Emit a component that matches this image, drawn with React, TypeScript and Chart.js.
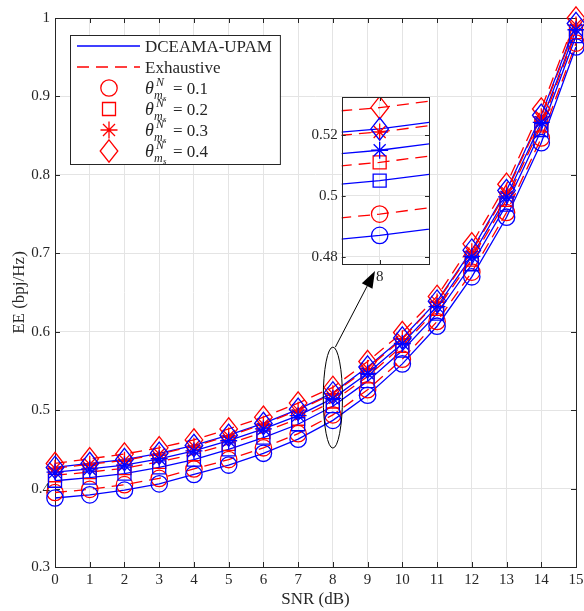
import React, { useEffect, useRef } from "react";
import { Chart, registerables } from "chart.js";
Chart.register(...registerables);

// ---------------- data ----------------
const snr = [0, 1, 2, 3, 4, 5, 6, 7, 8, 9, 10, 11, 12, 13, 14, 15];
const yTickValues = [0.3, 0.4, 0.5, 0.6, 0.7, 0.8, 0.9, 1];
const xTickValues = [0, 1, 2, 3, 4, 5, 6, 7, 8, 9, 10, 11, 12, 13, 14, 15];
const thetaValues = ["0.1", "0.2", "0.3", "0.4"];
const seriesNames = ["DCEAMA-UPAM", "Exhaustive"];

// DCEAMA-UPAM (blue, solid)
const propT1 = [0.388, 0.392, 0.398, 0.406, 0.418, 0.430, 0.445, 0.463, 0.487, 0.519, 0.559, 0.607, 0.670, 0.746, 0.841, 0.963];
const propT2 = [0.410, 0.414, 0.419, 0.427, 0.437, 0.450, 0.465, 0.482, 0.505, 0.537, 0.576, 0.623, 0.686, 0.762, 0.857, 0.977];
const propT3 = [0.421, 0.425, 0.430, 0.438, 0.448, 0.461, 0.476, 0.493, 0.515, 0.547, 0.585, 0.632, 0.696, 0.772, 0.867, 0.985];
const propT4 = [0.427, 0.432, 0.437, 0.445, 0.455, 0.468, 0.483, 0.501, 0.522, 0.555, 0.592, 0.639, 0.704, 0.780, 0.876, 0.993];
// Exhaustive (red, dashed)
const exhT1 = [0.395, 0.399, 0.405, 0.413, 0.425, 0.437, 0.452, 0.470, 0.494, 0.526, 0.565, 0.613, 0.676, 0.752, 0.847, 0.968];
const exhT2 = [0.417, 0.421, 0.426, 0.434, 0.444, 0.457, 0.472, 0.489, 0.511, 0.543, 0.582, 0.629, 0.692, 0.768, 0.863, 0.982];
const exhT3 = [0.426, 0.431, 0.436, 0.444, 0.454, 0.467, 0.482, 0.500, 0.521, 0.553, 0.591, 0.638, 0.702, 0.778, 0.874, 0.991];
const exhT4 = [0.432, 0.438, 0.444, 0.452, 0.462, 0.476, 0.491, 0.509, 0.529, 0.562, 0.599, 0.645, 0.712, 0.788, 0.884, 1.000];

// inset
const insetXTicks = [8];
const insetYTicks = [0.48, 0.5, 0.52];
const insetYLabels = ["0.48", "0.5", "0.52"];
const insetXRange = [7.95, 8.065];
const insetYRange = [0.4776, 0.5325];

// ---------------- styling ----------------
const BLUE = "#0000ff";
const RED = "#ff0000";
const AXIS = "#262626";
const GRID = "#e4e4e4";
const FONT = "'Liberation Serif', 'Times New Roman', serif";
const DASH = [12, 7];
const LW = 1.3;

type Shape = "circle" | "square" | "star" | "diamond";
const shapes: Shape[] = ["circle", "square", "star", "diamond"];

function drawMarker(g: CanvasRenderingContext2D, shape: Shape, cx: number, cy: number, color: string) {
  g.save();
  g.strokeStyle = color;
  g.lineWidth = LW;
  g.setLineDash([]);
  g.beginPath();
  if (shape === "circle") {
    g.arc(cx, cy, 8.2, 0, Math.PI * 2);
  } else if (shape === "square") {
    g.rect(cx - 6.5, cy - 6.5, 13, 13);
  } else if (shape === "star") {
    const r = 8.5;
    for (const a of [0, 45, 90, 135]) {
      const t = (a * Math.PI) / 180;
      g.moveTo(cx - r * Math.cos(t), cy - r * Math.sin(t));
      g.lineTo(cx + r * Math.cos(t), cy + r * Math.sin(t));
    }
  } else {
    g.moveTo(cx, cy - 11.2);
    g.lineTo(cx + 8.8, cy);
    g.lineTo(cx, cy + 11.2);
    g.lineTo(cx - 8.8, cy);
    g.closePath();
  }
  g.stroke();
  g.restore();
}

function buildDatasets(clip: boolean) {
  const prop = [propT1, propT2, propT3, propT4];
  const exh = [exhT1, exhT2, exhT3, exhT4];
  const ds: any[] = [];
  shapes.forEach((shape, i) => {
    ds.push({
      label: seriesNames[1],
      data: snr.map((x, k) => ({ x, y: exh[i][k] })),
      borderColor: RED,
      borderWidth: LW,
      borderDash: DASH,
      pointRadius: 0,
      fill: false,
      tension: 0,
      markerShape: shape,
      clip: clip ? undefined : false,
    });
  });
  shapes.forEach((shape, i) => {
    ds.push({
      label: seriesNames[0],
      data: snr.map((x, k) => ({ x, y: prop[i][k] })),
      borderColor: BLUE,
      borderWidth: LW,
      pointRadius: 0,
      fill: false,
      tension: 0,
      markerShape: shape,
      clip: clip ? undefined : false,
    });
  });
  return ds;
}

function drawAllMarkers(chart: any, clip: boolean) {
  const { ctx, chartArea: a } = chart;
  ctx.save();
  if (clip) {
    ctx.beginPath();
    ctx.rect(a.left, a.top, a.right - a.left, a.bottom - a.top);
    ctx.clip();
  }
  chart.data.datasets.forEach((ds: any, i: number) => {
    const meta = chart.getDatasetMeta(i);
    meta.data.forEach((el: any) => {
      if (clip && (el.x < a.left - 15 || el.x > a.right + 15)) return;
      drawMarker(ctx, ds.markerShape, el.x, el.y, ds.borderColor);
    });
  });
  ctx.restore();
}

function drawBoxAndTicks(chart: any, xTicks: number[], yTicks: number[], len: number) {
  const { ctx, chartArea: a, scales } = chart;
  ctx.save();
  ctx.strokeStyle = AXIS;
  ctx.lineWidth = 1;
  ctx.beginPath();
  for (const v of xTicks) {
    const px = Math.round(scales.x.getPixelForValue(v)) + 0.5;
    ctx.moveTo(px, a.bottom);
    ctx.lineTo(px, a.bottom - len);
    ctx.moveTo(px, a.top);
    ctx.lineTo(px, a.top + len);
  }
  for (const v of yTicks) {
    const py = Math.round(scales.y.getPixelForValue(v)) + 0.5;
    ctx.moveTo(a.left, py);
    ctx.lineTo(a.left + len, py);
    ctx.moveTo(a.right, py);
    ctx.lineTo(a.right - len, py);
  }
  ctx.stroke();
  ctx.strokeRect(Math.round(a.left) + 0.5, Math.round(a.top) + 0.5, Math.round(a.right - a.left), Math.round(a.bottom - a.top));
  ctx.restore();
}

function fmtTick(v: number) {
  return String(Math.round(v * 10) / 10);
}

function drawTheta(ctx: CanvasRenderingContext2D, x: number, base: number, val: string) {
  ctx.font = `italic 18px ${FONT}`;
  ctx.fillText("θ", x, base);
  ctx.font = `italic 12px ${FONT}`;
  ctx.fillText("N", x + 11, base - 8);
  ctx.fillText("m", x + 9, base + 5);
  ctx.font = `italic 9px ${FONT}`;
  ctx.fillText("s", x + 18, base + 7);
  ctx.font = `17px ${FONT}`;
  ctx.fillText("= " + val, x + 28, base);
}

const mainPlugin = {
  id: "mainDecor",
  beforeDatasetsDraw(chart: any) {
    const { ctx, chartArea: a, scales } = chart;
    drawBoxAndTicks(chart, xTickValues, yTickValues, 5);
    ctx.save();
    ctx.fillStyle = AXIS;
    ctx.font = `15px ${FONT}`;
    ctx.textAlign = "right";
    ctx.textBaseline = "middle";
    for (const v of yTickValues) {
      ctx.fillText(fmtTick(v), a.left - 5, scales.y.getPixelForValue(v));
    }
    ctx.textAlign = "center";
    for (const v of xTickValues) {
      ctx.fillText(String(v), scales.x.getPixelForValue(v), a.bottom + 13);
    }
    ctx.font = `17px ${FONT}`;
    ctx.fillText("SNR (dB)", (a.left + a.right) / 2, a.bottom + 33);
    ctx.translate(20, (a.top + a.bottom) / 2);
    ctx.rotate(-Math.PI / 2);
    ctx.fillText("EE (bpj/Hz)", 0, 0);
    ctx.restore();
  },
  afterDatasetsDraw(chart: any) {
    const { ctx, scales } = chart;
    drawAllMarkers(chart, false);
    ctx.save();
    // ellipse around SNR = 8
    const ex = scales.x.getPixelForValue(8);
    const ey = scales.y.getPixelForValue(0.516);
    ctx.strokeStyle = "#000";
    ctx.lineWidth = 1;
    ctx.beginPath();
    ctx.ellipse(ex, ey, 9.6, 50.5, 0, 0, Math.PI * 2);
    ctx.stroke();
    // arrow to inset
    const sx = ex + 2.5, sy = ey - 50.5;
    const tx = 375, ty = 271;
    const ang = Math.atan2(ty - sy, tx - sx);
    const hl = 17, hw = 6;
    const bx = tx - hl * Math.cos(ang), by = ty - hl * Math.sin(ang);
    ctx.beginPath();
    ctx.moveTo(sx, sy);
    ctx.lineTo(bx, by);
    ctx.stroke();
    ctx.fillStyle = "#000";
    ctx.beginPath();
    ctx.moveTo(tx, ty);
    ctx.lineTo(bx + hw * Math.sin(ang), by - hw * Math.cos(ang));
    ctx.lineTo(bx - hw * Math.sin(ang), by + hw * Math.cos(ang));
    ctx.closePath();
    ctx.fill();

    // legend
    const L = 70, T = 35, B = 164;
    ctx.font = `17px ${FONT}`;
    const textX = 145;
    const w1 = ctx.measureText(seriesNames[0]).width;
    const R = textX + w1 + 8;
    ctx.fillStyle = "#fff";
    ctx.fillRect(L, T, R - L, B - T);
    ctx.strokeStyle = AXIS;
    ctx.lineWidth = 1;
    ctx.strokeRect(L + 0.5, T + 0.5, R - L, B - T);
    const rows = [46, 67, 88, 109, 130, 151];
    ctx.lineWidth = LW;
    ctx.strokeStyle = BLUE;
    ctx.beginPath();
    ctx.moveTo(77, rows[0]);
    ctx.lineTo(140, rows[0]);
    ctx.stroke();
    ctx.strokeStyle = RED;
    ctx.setLineDash(DASH);
    ctx.beginPath();
    ctx.moveTo(77, rows[1]);
    ctx.lineTo(140, rows[1]);
    ctx.stroke();
    ctx.setLineDash([]);
    ctx.fillStyle = AXIS;
    ctx.textAlign = "left";
    ctx.textBaseline = "alphabetic";
    ctx.fillText(seriesNames[0], textX, rows[0] + 6);
    ctx.fillText(seriesNames[1], textX, rows[1] + 6);
    shapes.forEach((s, i) => {
      const cy = rows[i + 2];
      drawMarker(ctx, s, 109, cy, RED);
      drawTheta(ctx, textX, cy + 6, thetaValues[i]);
    });
    ctx.restore();
  },
};

const insetPlugin = {
  id: "insetDecor",
  beforeDraw(chart: any) {
    const { ctx, chartArea: a } = chart;
    ctx.save();
    ctx.fillStyle = "#fff";
    ctx.fillRect(a.left, a.top, a.right - a.left, a.bottom - a.top);
    ctx.restore();
  },
  afterDatasetsDraw(chart: any) {
    const { ctx, chartArea: a, scales } = chart;
    drawAllMarkers(chart, true);
    drawBoxAndTicks(chart, insetXTicks, insetYTicks, 4);
    ctx.save();
    ctx.fillStyle = AXIS;
    ctx.font = `15px ${FONT}`;
    ctx.textAlign = "right";
    ctx.textBaseline = "middle";
    insetYTicks.forEach((v, i) => {
      ctx.fillText(insetYLabels[i], a.left - 4, scales.y.getPixelForValue(v));
    });
    ctx.textAlign = "center";
    for (const v of insetXTicks) {
      ctx.fillText(String(v), scales.x.getPixelForValue(v), a.bottom + 13);
    }
    ctx.restore();
  },
};

export default function App() {
  const mainRef = useRef<HTMLCanvasElement>(null);
  const insetRef = useRef<HTMLCanvasElement>(null);

  useEffect(() => {
    const main = new Chart(mainRef.current!, {
      type: "line",
      data: { datasets: buildDatasets(false) },
      options: {
        animation: false,
        responsive: false,
        maintainAspectRatio: false,
        devicePixelRatio: 1,
        layout: { padding: { left: 0, top: 18, right: 8, bottom: 0 } },
        plugins: { legend: { display: false }, tooltip: { enabled: false } },
        scales: {
          x: {
            type: "linear",
            min: 0,
            max: 15,
            ticks: { display: false, stepSize: 1 },
            grid: { color: GRID, drawTicks: false, lineWidth: 1 },
            border: { display: false },
            afterFit: (s: any) => { s.height = 44; },
          },
          y: {
            type: "linear",
            min: 0.3,
            max: 1,
            ticks: { display: false, stepSize: 0.1 },
            grid: { color: GRID, drawTicks: false, lineWidth: 1 },
            border: { display: false },
            afterFit: (s: any) => { s.width = 55; },
          },
        },
      } as any,
      plugins: [mainPlugin],
    });

    const inset = new Chart(insetRef.current!, {
      type: "line",
      data: { datasets: buildDatasets(true) },
      options: {
        animation: false,
        responsive: false,
        maintainAspectRatio: false,
        devicePixelRatio: 1,
        layout: { padding: { left: 0, top: 9, right: 11, bottom: 0 } },
        plugins: { legend: { display: false }, tooltip: { enabled: false } },
        scales: {
          x: {
            type: "linear",
            min: insetXRange[0],
            max: insetXRange[1],
            ticks: { display: false },
            afterBuildTicks: (s: any) => { s.ticks = insetXTicks.map((v) => ({ value: v })); },
            grid: { color: GRID, drawTicks: false, lineWidth: 1 },
            border: { display: false },
            afterFit: (s: any) => { s.height = 24; },
          },
          y: {
            type: "linear",
            min: insetYRange[0],
            max: insetYRange[1],
            ticks: { display: false },
            afterBuildTicks: (s: any) => { s.ticks = insetYTicks.map((v) => ({ value: v })); },
            grid: { color: GRID, drawTicks: false, lineWidth: 1 },
            border: { display: false },
            afterFit: (s: any) => { s.width = 41.7; },
          },
        },
      } as any,
      plugins: [insetPlugin],
    });

    return () => {
      main.destroy();
      inset.destroy();
    };
  }, []);

  return (
    <div style={{ position: "absolute", left: 0, top: 0, width: 584, height: 611, background: "#fff" }}>
      <canvas ref={mainRef} width={584} height={611} style={{ position: "absolute", left: 0, top: 0, width: 584, height: 611 }} />
      <canvas ref={insetRef} width={140} height={200} style={{ position: "absolute", left: 300, top: 88, width: 140, height: 200 }} />
    </div>
  );
}
